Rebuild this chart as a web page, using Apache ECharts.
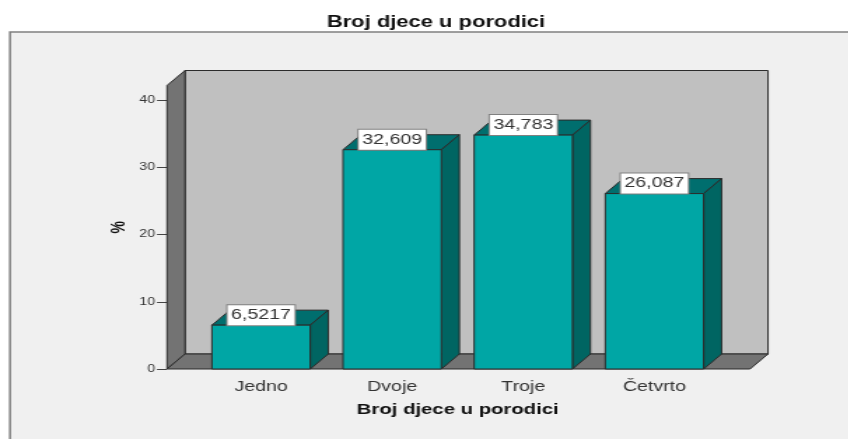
<!DOCTYPE html>
<html>
<head>
<meta charset="utf-8">
<style>
    html, body { margin: 0; padding: 0; background: #fff; overflow: hidden; width: 848px; height: 439px; }
    /* izvorna slika je razvucena po sirini, zato i ovdje razvlacimo platno */
    #main { width: 605.71px; height: 439px; transform: scaleX(1.4); transform-origin: 0 0; }
</style>
<script src="https://cdn.jsdelivr.net/npm/echarts@6/dist/echarts.min.js"></script>
</head>
<body>
<div id="main"></div>
<script>
// podaci
var categories = ['Jedno', 'Dvoje', 'Troje', 'Četvrto'];
var values = [6.5217, 32.609, 34.783, 26.087];
var yTicks = [0, 10, 20, 30, 40];
var titleText = 'Broj djece u porodici';
var yName = '%';

var SX = 1.4;          // razvlacenje po x
var depthX = 18 / SX;  // 3D pomak
var depthY = 15;
var font = 'Liberation Sans, Arial, sans-serif';
var lineColor = '#2b2b2b';

function px(x) { return x / SX; }

function poly(points, fill) {
    return {
        type: 'polygon',
        shape: { points: points },
        style: { fill: fill, stroke: lineColor, lineWidth: 1 }
    };
}

// zidovi i pod
function renderWalls(params) {
    var c = params.coordSys;
    var left = c.x - px(28.5);
    var right = c.x + c.width + px(30);
    var top = c.y;
    var bottom = c.y + c.height;
    return {
        type: 'group',
        children: [
            poly([[left + depthX, top - depthY], [right + depthX, top - depthY], [right + depthX, bottom - depthY], [left + depthX, bottom - depthY]], '#c0c0c0'),
            poly([[left, top], [left + depthX, top - depthY], [left + depthX, bottom - depthY], [left, bottom]], '#737373'),
            poly([[left, bottom], [left + depthX, bottom - depthY], [right + depthX, bottom - depthY], [right, bottom]], '#737373')
        ]
    };
}

// stupci
function renderBar(params, api) {
    var p = api.coord([api.value(0), api.value(1)]);
    var base = api.coord([api.value(0), 0]);
    var w = api.size([1, 0])[0] * 0.75;
    var x = p[0] - w / 2;
    var y = p[1];
    return {
        type: 'group',
        children: [
            poly([[x, y], [x + depthX, y - depthY], [x + w + depthX, y - depthY], [x + w, y]], '#006e6e'),
            poly([[x + w, y], [x + w + depthX, y - depthY], [x + w + depthX, base[1] - depthY], [x + w, base[1]]], '#006562'),
            poly([[x, y], [x + w, y], [x + w, base[1]], [x, base[1]]], '#00a6a5'),
            {
                type: 'text',
                style: {
                    text: String(api.value(1)).replace('.', ','),
                    x: p[0],
                    y: y,
                    align: 'center',
                    verticalAlign: 'bottom',
                    font: '14px ' + font,
                    fill: '#333',
                    backgroundColor: '#fff',
                    borderColor: '#808080',
                    borderWidth: 1,
                    padding: [3, 2.5, 3, 2.5]
                }
            }
        ]
    };
}

var myChart = echarts.init(document.getElementById('main'));
var option = {
    animation: false,
    backgroundColor: '#fff',
    graphic: [{
        type: 'rect',
        z: -10,
        shape: { x: px(10), y: 32, width: 700, height: 420 },
        style: { fill: '#f0f0f0', stroke: '#808080', lineWidth: 1.5 }
    }],
    title: {
        text: titleText,
        left: px(429),
        top: 10,
        textAlign: 'center',
        textStyle: { fontFamily: font, fontSize: 15.7, fontWeight: 'bold', color: '#111' }
    },
    grid: { left: px(195.5), width: px(524.5), top: 85.5, height: 283.5 },
    xAxis: {
        type: 'category',
        data: categories,
        name: titleText,
        nameLocation: 'middle',
        nameGap: 33,
        nameMoveOverlap: false,
        nameTextStyle: { fontFamily: font, fontSize: 14.5, fontWeight: 'bold', color: '#111' },
        axisLine: { show: false },
        axisTick: { alignWithLabel: true, length: 8, lineStyle: { color: '#444' } },
        axisLabel: { fontFamily: font, fontSize: 14, color: '#333', margin: 11 }
    },
    yAxis: {
        type: 'value',
        min: 0,
        max: 42.16,
        interval: 10,
        offset: px(28.5),
        name: yName,
        nameLocation: 'middle',
        nameGap: 27,
        nameMoveOverlap: false,
        nameTextStyle: { fontFamily: font, fontSize: 14, fontWeight: 'bold', color: '#111' },
        splitLine: { show: false },
        axisLine: { show: false },
        axisTick: { show: true, customValues: yTicks, length: px(10), lineStyle: { color: '#444' } },
        axisLabel: { customValues: yTicks, fontFamily: font, fontSize: 10, color: '#333', margin: px(12) }
    },
    series: [
        {
            type: 'custom',
            silent: true,
            renderItem: renderWalls,
            data: [[0, 0]],
            z: 1
        },
        {
            type: 'custom',
            renderItem: renderBar,
            encode: { x: 0, y: 1 },
            data: values.map(function (v, i) { return [i, v]; }),
            z: 2
        }
    ]
};
myChart.setOption(option);
</script>
</body>
</html>
